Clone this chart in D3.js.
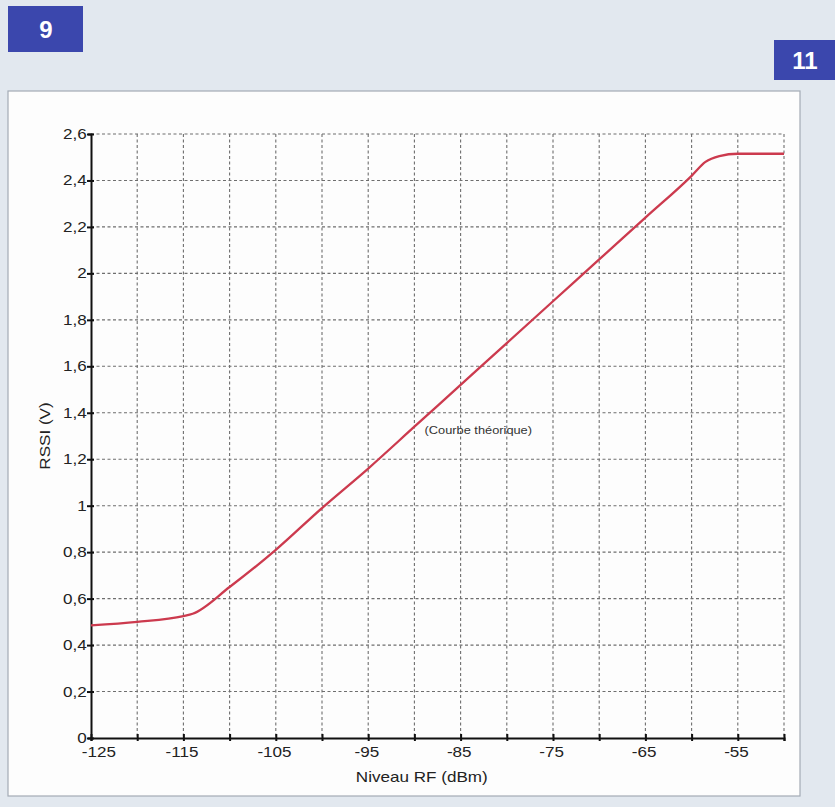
<!DOCTYPE html>
<html>
<head>
<meta charset="utf-8">
<script src="https://cdn.jsdelivr.net/npm/d3@7/dist/d3.min.js"></script>
<style>
  html, body { margin: 0; padding: 0; background: #e2e8ef; }
  svg { display: block; }
</style>
</head>
<body>
<svg id="chart" width="835" height="807"></svg>
<script>
// RSSI output voltage versus RF input level (theoretical curve)
const rfLevel = [-125, -120, -115, -114, -110, -105, -100, -95, -90, -85, -80, -75, -70, -65, -60, -58.5, -57, -55, -50];
const rssi    = [0.485, 0.50, 0.525, 0.535, 0.65, 0.81, 0.99, 1.16, 1.34, 1.52, 1.70, 1.88, 2.06, 2.24, 2.42, 2.48, 2.505, 2.515, 2.515];

const xTicks = d3.range(-125, -49, 5);
const xLabelTicks = [-125, -115, -105, -95, -85, -75, -65, -55];
const yTicks = [0, 0.2, 0.4, 0.6, 0.8, 1, 1.2, 1.4, 1.6, 1.8, 2, 2.2, 2.4, 2.6];

const xTitle = "Niveau RF (dBm)";
const yTitle = "RSSI (V)";
const curveLabel = "(Courbe théorique)";

const svg = d3.select("#chart");
const font = "Arial, 'Liberation Sans', sans-serif";
const wide = "scale(1.22,1)"; // the figure's lettering is set slightly expanded

// page furniture: section badges and the white figure panel
svg.append("rect").attr("x", 0).attr("y", 0).attr("width", 835).attr("height", 807).attr("fill", "#e2e8ef");
svg.append("rect").attr("x", 8).attr("y", 6).attr("width", 75).attr("height", 46).attr("fill", "#3b47ad");
svg.append("text").attr("x", 46).attr("y", 38).attr("text-anchor", "middle")
  .attr("font-family", font).attr("font-weight", "bold").attr("font-size", 24).attr("fill", "#ffffff").text("9");
svg.append("rect").attr("x", 774).attr("y", 40).attr("width", 61).attr("height", 40).attr("fill", "#3b47ad");
svg.append("text").attr("x", 805).attr("y", 69).attr("text-anchor", "middle")
  .attr("font-family", font).attr("font-weight", "bold").attr("font-size", 24).attr("fill", "#ffffff").text("11");

svg.append("rect").attr("x", 8).attr("y", 91).attr("width", 792).attr("height", 705)
  .attr("fill", "#fdfdfd").attr("stroke", "#a3abb5").attr("stroke-width", 1.2);

const plotLeft = 91, plotRight = 784, plotTop = 134, plotBottom = 738;
const x = d3.scaleLinear().domain([-125, -50]).range([plotLeft, plotRight]);
const y = d3.scaleLinear().domain([0, 2.6]).range([plotBottom, plotTop]);

// dashed grid
const grid = svg.append("g").attr("stroke", "#6e6e6e").attr("stroke-width", 1.1)
  .attr("stroke-dasharray", "3,2.5").attr("fill", "none");
grid.selectAll("line.v").data(xTicks.slice(1)).join("line")
  .attr("x1", d => x(d)).attr("x2", d => x(d)).attr("y1", y(2.6)).attr("y2", y(0));
grid.selectAll("line.h").data(yTicks.slice(1)).join("line")
  .attr("x1", x(-125)).attr("x2", x(-50)).attr("y1", d => y(d)).attr("y2", d => y(d));

// axes
const fmt = d => d3.format(".1f")(d).replace(/\.0$/, "").replace(".", ",");
const yAxis = d3.axisLeft(y).tickValues(yTicks).tickFormat(fmt).tickSize(3).tickPadding(2);
const gy = svg.append("g").attr("transform", `translate(${plotLeft},0)`).call(yAxis);
gy.select(".domain").attr("stroke", "#111").attr("stroke-width", 2);
gy.selectAll(".tick line").attr("stroke", "#111").attr("stroke-width", 2).attr("x2", 3).attr("x1", -4);
gy.selectAll(".tick text").attr("font-family", font).attr("font-size", 14).attr("fill", "#222")
  .attr("x", -3.5).attr("transform", wide);

const xAxis = d3.axisBottom(x).tickValues(xTicks)
  .tickFormat(d => xLabelTicks.includes(d) ? d : "").tickSize(3).tickPadding(6);
const gx = svg.append("g").attr("transform", `translate(0,${plotBottom})`).call(xAxis);
gx.select(".domain").attr("stroke", "#111").attr("stroke-width", 2);
gx.selectAll(".tick line").attr("stroke", "#111").attr("stroke-width", 2).attr("y1", -4).attr("y2", 3);
gx.selectAll(".tick text").attr("font-family", font).attr("font-size", 14).attr("fill", "#222")
  .attr("x", d => d === -125 ? 6 : -1.5).attr("transform", wide);

// axis titles
svg.append("text").attr("transform", `translate(${x(-89.2)},782) ${wide}`).attr("text-anchor", "middle")
  .attr("font-family", font).attr("font-size", 14).attr("fill", "#222").text(xTitle);
svg.append("text").attr("transform", `translate(50,${y(1.3)}) rotate(-90) ${wide}`).attr("text-anchor", "middle")
  .attr("font-family", font).attr("font-size", 14).attr("fill", "#222").text(yTitle);

// curve
const line = d3.line().x((d, i) => x(rfLevel[i])).y(d => y(d)).curve(d3.curveMonotoneX);
svg.append("path").datum(rssi).attr("d", line)
  .attr("fill", "none").attr("stroke", "#cc3a4e").attr("stroke-width", 2.3);

svg.append("text").attr("transform", `translate(${x(-88.9)},${y(1.325)}) ${wide}`).attr("dy", "0.35em")
  .attr("font-family", font).attr("font-size", 10.5).attr("fill", "#333").text(curveLabel);
</script>
</body>
</html>
